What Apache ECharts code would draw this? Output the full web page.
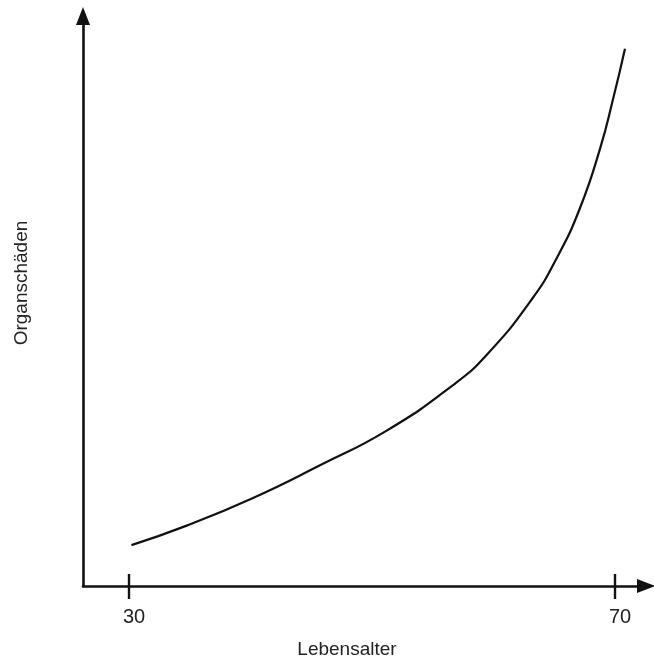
<!DOCTYPE html>
<html>
<head>
<meta charset="utf-8">
<script src="https://cdn.jsdelivr.net/npm/echarts@6/dist/echarts.min.js"></script>
<style>
html,body{margin:0;padding:0;background:#fff;}
#chart{width:654px;height:664px;}
</style>
</head>
<body>
<div id="chart"></div>
<script>
// Data (age in years, organ damage in arbitrary units 0..100)
const ages = [30.2, 34.75, 40.21, 45.72, 51.21, 56.67, 59.47, 63.17, 65.23, 67.12, 68.77, 69.84, 70.82];
const damage = [7.17, 10.59, 15.45, 21.18, 27.26, 35.25, 40.63, 50.35, 57.64, 66.32, 76.74, 85.42, 94.27];
const xTicks = [30, 70];
const xName = 'Lebensalter';
const yName = 'Organschäden';

const font = '"Liberation Sans", Arial, Helvetica, sans-serif';
const ink = '#111';
const textInk = '#222';
const chart = echarts.init(document.getElementById('chart'));
const xMin = 26.214, xMax = 72.55;
chart.setOption({
  animation: false,
  backgroundColor: '#fff',
  grid: { left: 83, right: 8, top: 16, bottom: 72 },
  xAxis: [{
    type: 'value', min: xMin, max: xMax, position: 'bottom',
    name: xName, nameLocation: 'middle', nameGap: 54,
    nameTextStyle: { fontFamily: font, fontSize: 19, color: textInk, padding: [0, 35, 0, 0] },
    axisLine: { show: true, symbol: ['none', 'triangle'], symbolSize: [14, 18], lineStyle: { color: ink, width: 2.6 } },
    axisTick: { show: true, inside: true, length: 12, customValues: xTicks, lineStyle: { color: ink, width: 2.4 } },
    axisLabel: { show: true, customValues: xTicks, margin: 21, padding: [0, 0, 0, 10], fontFamily: font, fontSize: 20, color: textInk },
    splitLine: { show: false }
  }, {
    type: 'value', min: xMin, max: xMax, position: 'bottom',
    axisLine: { show: false },
    axisTick: { show: true, inside: false, length: 13, customValues: xTicks, lineStyle: { color: ink, width: 2.4 } },
    axisLabel: { show: false },
    splitLine: { show: false }
  }],
  yAxis: {
    type: 'value', min: 0, max: 100,
    name: yName, nameLocation: 'middle', nameGap: 52, nameRotate: 90,
    nameTextStyle: { fontFamily: font, fontSize: 19, color: textInk, padding: [0, 0, 0, 36] },
    axisLine: { show: true, symbol: ['none', 'triangle'], symbolSize: [14, 18], lineStyle: { color: ink, width: 2.6 } },
    axisTick: { show: false },
    axisLabel: { show: false },
    splitLine: { show: false }
  },
  series: [{
    type: 'line',
    xAxisIndex: 0,
    data: ages.map((a, i) => [a, damage[i]]),
    smooth: 0.5,
    showSymbol: false,
    lineStyle: { color: ink, width: 2.2 }
  }]
});
</script>
</body>
</html>
